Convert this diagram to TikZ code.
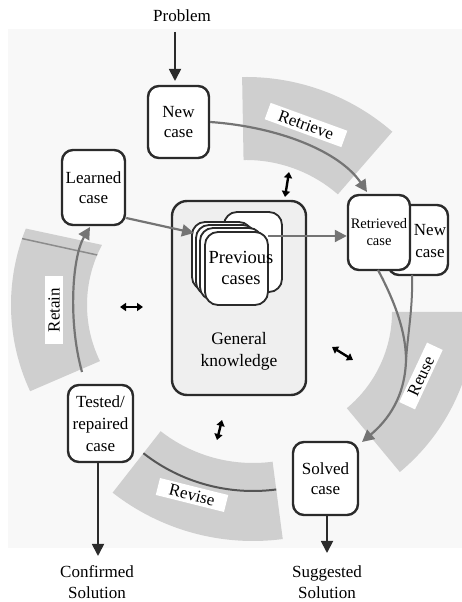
\documentclass[tikz,border=0pt]{standalone}
\usepackage{fontspec}
\setmainfont{Liberation Serif}
\usetikzlibrary{arrows.meta}
\definecolor{bandgray}{HTML}{CFCFCF}
\definecolor{arrowgray}{HTML}{747474}
\definecolor{boxline}{HTML}{2B2B2B}
\definecolor{gkfill}{HTML}{EFEFEF}
\definecolor{bggray}{HTML}{F8F8F8}
\definecolor{divline}{HTML}{8C8C8C}
\begin{document}
\begin{tikzpicture}[x=1pt,y=1pt,
  casebox/.style={draw=boxline, line width=2.4pt, rounded corners=11pt, fill=white,
    inner sep=0pt, align=center, font=\fontsize{17}{20}\selectfont},
  cardbox/.style={draw=boxline, line width=1.8pt, rounded corners=13pt, fill=white, inner sep=0pt},
  gkbox/.style={draw=boxline, line width=2.4pt, rounded corners=15pt, fill=gkfill, inner sep=0pt},
  plaintext/.style={align=center, inner sep=0pt, font=\fontsize{17}{21}\selectfont},
  bandlabel/.style={fill=white, inner xsep=12pt, inner ysep=3pt, font=\fontsize{17}{20}\selectfont},
  grayarrow/.style={draw=arrowgray, line width=2.2pt, -{Triangle[length=12pt,width=12pt]}},
  grayline/.style={draw=arrowgray, line width=2pt},
  blackarrow/.style={draw=boxline, line width=1.8pt, -{Triangle[length=12pt,width=12pt]}},
  dblarrow/.style={draw=black, line width=2.4pt, {Triangle[length=6pt,width=8pt]}-{Triangle[length=6pt,width=8pt]}}
]
\useasboundingbox (0,0) rectangle (462,602);
% background
\fill[bggray] (8,54) rectangle (462,573);

% centres of the bands
\coordinate (rc) at (246,302);
\coordinate (lc) at (215,297);
\coordinate (vc) at (253,289);
\coordinate (uc) at (267,290);

% Retrieve band
\fill[bandgray] ([shift={(49:140pt)}]rc) arc[start angle=49,end angle=91,radius=140pt]
  -- ([shift={(91:223pt)}]rc) arc[start angle=91,end angle=49,radius=223pt] -- cycle;
% Retain band
\fill[bandgray] ([shift={(206:128pt)}]lc) arc[start angle=206,end angle=152,radius=128pt]
  -- ([shift={(158:204pt)}]lc) arc[start angle=158,end angle=205,radius=204pt] -- cycle;
\draw[divline, line width=1.5pt] ([shift={(157:128pt)}]lc) -- ([shift={(161:204pt)}]lc);
% Revise band
\fill[bandgray] ([shift={(232:150pt)}]vc) arc[start angle=232,end angle=277.5,radius=150pt]
  -- ([shift={(277.5:228pt)}]vc) arc[start angle=277.5,end angle=232,radius=228pt] -- cycle;
\draw[draw=boxline!80, line width=2pt] ([shift={(232:178pt)}]vc) arc[start angle=232,end angle=277.5,radius=178pt];
% Reuse band
\fill[bandgray] ([shift={(-50.3:125pt)}]uc) arc[start angle=-50.3,end angle=0,radius=125pt]
  -- ([shift={(0:208pt)}]uc) arc[start angle=0,end angle=-50.3,radius=208pt] -- cycle;

% band labels
\node[bandlabel, rotate=-20] (lretrieve) at (306,477) {Retrieve};
\node[bandlabel, rotate=90] (lretain) at (54,292) {Retain};
\node[bandlabel, rotate=-14] (lrevise) at (192,107) {Revise};
\node[bandlabel, rotate=65] (lreuse) at (421,226) {Reuse};

% general knowledge and previous cases
\node[gkbox, minimum width=134pt, minimum height=194pt] (gk) at (239,304) {};
\node[cardbox, minimum width=58pt, minimum height=80pt] (pc0) at (253,350) {};
\node[cardbox, minimum width=60pt, minimum height=68pt] (pc1) at (222,346) {};
\node[cardbox, minimum width=60pt, minimum height=70pt] (pc2) at (226,342) {};
\node[cardbox, minimum width=62pt, minimum height=72pt] (pc3) at (231,338) {};
\node[cardbox, minimum width=63pt, minimum height=73pt] (pc4) at (236.5,333.5) {};
\node[plaintext, font=\fontsize{18.5}{21}\selectfont] (pctext) at (241,334) {Previous\\cases};
\node[plaintext, font=\fontsize{17.5}{22}\selectfont] (gktext) at (239,251) {General\\knowledge};

% case boxes
\node[casebox, minimum width=61pt, minimum height=72pt] (newcase) at (178.5,480) {New\\case};
\node[casebox, minimum width=63pt, minimum height=75pt] (learned) at (93.5,414.5) {Learned\\case};
\node[casebox, minimum width=60pt, minimum height=70pt] (newcase2) at (418,362) {};
\node[casebox, minimum width=62pt, minimum height=75pt, font=\fontsize{14.5}{17}\selectfont] (retrieved) at (379,369.5) {Retrieved\\case};
\node[plaintext, font=\fontsize{17}{22}\selectfont] (newcase2text) at (430,361) {New\\case};
\node[casebox, minimum width=65pt, minimum height=77pt, font=\fontsize{17}{22}\selectfont] (tested) at (100.5,178.5) {Tested/\\repaired\\case};
\node[casebox, minimum width=65pt, minimum height=73pt] (solved) at (325.5,123.5) {Solved\\case};

% texts outside
\node[plaintext] (problem) at (182,586) {Problem};
\node[plaintext] (confirmed) at (97,20) {Confirmed\\Solution};
\node[plaintext] (suggested) at (327,20) {Suggested\\Solution};

% black arrows
\draw[blackarrow] (175,570) -- (175,521);
\draw[blackarrow] (98,140) -- (98,46);
\draw[blackarrow] (327,87) -- (327,49);

% gray cycle arrows
\coordinate (lrtail) at (82,230);
\coordinate (merge) at (406,242);
\draw[grayarrow] (newcase.east) .. controls (280,475) and (340,450) .. (367,410);
\draw[grayarrow] (learned.east |- 0,384) -- (194,369);
\draw[grayarrow] (268,366) -- (retrieved.west |- 0,366);
\draw[grayarrow] (lrtail) .. controls (68,280) and (72,345) .. (90,375);
\draw[grayline] (412,327) .. controls (413,295) and (408,270) .. (merge);
\draw[grayarrow] (378,332) .. controls (395,300) and (406,270) .. (merge)
  .. controls (405,205) and (388,182) .. (362,160);

% small double arrows
\draw[dblarrow] (289,430) -- (285,405);
\draw[dblarrow] (120,295) -- (143,295);
\draw[dblarrow] (332,255) -- (353,242);
\draw[dblarrow] (222,182) -- (217,162);
\end{tikzpicture}
\end{document}
